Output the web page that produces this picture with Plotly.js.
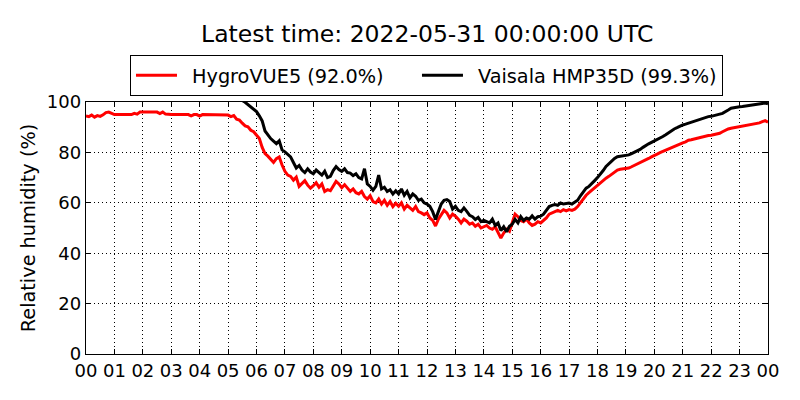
<!DOCTYPE html>
<html>
<head>
<meta charset="utf-8">
<script src="https://cdn.plot.ly/plotly-3.0.1.min.js"></script>
<style>html,body{margin:0;padding:0;background:#fff;}#chart{width:800px;height:400px;}</style>
</head>
<body>
<div id="chart"></div>
<script>
// Sampling times: every 6 minutes, 2022-05-30 00:00 to 2022-05-31 00:00
var startTime = '2022-05-30T00:00:00';
var endTime = '2022-05-31T00:00:00';
var stepMinutes = 6;

var seriesNames = ['HygroVUE5 (92.0%)', 'Vaisala HMP35D (99.3%)'];

// HygroVUE5 relative humidity (%), 10 values per hour + final
var hygroVUE5 = [
  94.5,94.2,94.8,94.0,94.6,94.3,94.9,95.8,96.0,95.6,
  95,95,95,95,95,95,95,95.5,95.2,96,
  96,96,96,96,96,96,95.4,96,95.2,95,
  95,95,95,95,95,95,95,94.5,95,95,
  94.4,95,95,95,95,95,95,95,95,94.8,
  94.8,94.2,94.6,93.2,92.8,91.6,90.5,90.2,88.8,88.2,
  86.8,85.5,82.0,79.5,78.5,77.2,76.0,77.5,78.2,75.0,
  72.5,71.0,70.5,69.0,70.2,66.5,67.8,68.8,67.0,65.8,
  66.8,68.0,66.2,67.5,64.5,65.2,64.8,66.5,68.5,67.5,
  66.0,67.2,66.0,64.5,65.5,64.0,63.5,64.5,62.5,61.5,
  62.8,60.5,60.0,61.5,59.5,61.0,59.0,60.5,58.5,59.8,
  58.6,60.0,57.5,59.0,58.0,57.0,58.5,56.5,56.0,55.3,
  56.0,54.0,53.0,50.8,53.5,55.5,57.0,56.0,54.0,55.5,
  54.7,53.5,52.0,53.5,52.7,51.5,52.0,50.7,51.5,50.0,
  50.5,51.0,50.0,49.5,50.5,48.5,46.0,48.0,49.5,48.7,
  52.0,55.5,54.5,53.0,52.5,53.5,52.0,51.0,51.5,52.5,
  52.0,53.0,54.0,55.5,56.0,56.6,57.0,56.5,57.3,56.8,
  57.3,57.0,57.5,58.5,60.0,61.5,63.0,64.0,65.0,66.0,
  66.8,67.8,68.8,69.8,70.5,71.3,72.2,73.0,73.3,73.5,
  73.6,73.8,74.3,74.8,75.3,75.8,76.3,77.0,77.6,78.2,
  78.6,79.3,79.9,80.4,81.0,81.6,82.0,82.6,83.0,83.5,
  83.8,84.2,84.8,85.0,85.3,85.6,86.0,86.3,86.5,86.7,
  86.8,87.0,87.2,87.6,88.2,88.8,89.3,89.6,89.8,90.0,
  90.1,90.2,90.5,90.8,91.0,91.3,91.5,91.7,92.2,92.6,
  92.0
];

// Vaisala HMP35D relative humidity (%), 10 values per hour + final
var hmp35d = [
  101.5,101.3,101.6,101.2,101.4,101.5,101.6,101.8,101.9,101.7,
  101.6,101.6,101.6,101.6,101.6,101.6,101.6,101.8,101.7,102.0,
  102.0,102.0,102.0,102.0,102.0,102.0,101.8,102.0,101.7,101.6,
  101.6,101.6,101.6,101.6,101.6,101.6,101.6,101.4,101.6,101.6,
  101.3,101.6,101.6,101.6,101.6,101.6,101.6,101.6,101.6,101.5,
  101.5,101.4,101.4,101.2,101.0,100.6,99.9,99.0,98.2,97.3,
  96.2,94.5,92.5,88.5,87.0,85.5,84.5,83.5,84.6,81.0,
  80.2,79.0,78.2,76.0,73.8,74.8,73.0,72.0,73.5,72.2,
  71.5,73.0,72.0,71.0,72.5,70.0,70.5,72.8,74.4,73.2,
  72.5,73.5,72.0,71.8,70.8,71.5,70.0,69.5,73.5,67.5,
  66.5,65.0,66.5,71.0,65.5,66.2,64.5,65.2,63.5,64.8,
  63.5,65.5,63.0,64.5,62.0,63.5,62.6,61.0,61.5,60.0,
  59.5,58.6,56.5,53.4,56.5,59.5,61.0,61.3,60.5,57.5,
  58.6,57.0,56.5,58.0,56.6,55.0,54.5,53.4,54.2,52.5,
  53.0,52.5,52.0,53.5,51.0,52.0,49.0,50.5,48.5,50.7,
  51.5,53.4,52.0,54.5,53.0,54.0,53.5,54.8,53.5,54.5,
  54.7,55.5,57.0,58.5,59.0,59.3,59.0,59.9,59.5,59.8,
  59.9,59.5,60.2,61.0,62.8,64.5,65.8,66.5,67.5,68.8,
  70.0,71.3,72.8,74.4,75.5,76.6,77.6,78.3,78.5,78.6,
  78.8,79.0,79.5,80.0,80.6,81.2,82.0,82.8,83.4,84.0,
  84.5,85.0,85.6,86.3,87.0,87.8,88.5,89.3,89.8,90.4,
  90.9,91.2,91.6,92.0,92.5,92.9,93.3,93.7,94.0,94.2,
  94.3,94.5,94.8,95.2,95.5,96.0,96.8,97.5,97.8,98.0,
  98.1,98.2,98.4,98.5,98.6,98.8,99.0,99.2,99.4,99.6,
  99.3
];

var titleText = 'Latest time: 2022-05-31 00:00:00 UTC';
var yTitle = 'Relative humidity (%)';
var yTicks = [0, 20, 40, 60, 80, 100];

function pad(n) { return (n < 10 ? '0' : '') + n; }
function timeAxis(count) {
  var out = [];
  var t0 = new Date(startTime + 'Z').getTime();
  for (var i = 0; i < count; i++) {
    var d = new Date(t0 + i * stepMinutes * 60000);
    out.push(d.getUTCFullYear() + '-' + pad(d.getUTCMonth() + 1) + '-' + pad(d.getUTCDate()) + ' ' +
             pad(d.getUTCHours()) + ':' + pad(d.getUTCMinutes()) + ':00');
  }
  return out;
}
var times = timeAxis(hygroVUE5.length);

var FONT = 'DejaVu Sans, sans-serif';
var LEAD = '\u00a0\u2009';                              // gap between legend line and label
var TRAIL = '\u00a0\u00a0\u00a0\u00a0\u2009';           // spacing between the two legend entries

var traces = [
  {x: times, y: hygroVUE5, name: LEAD + seriesNames[0] + TRAIL, type: 'scatter', mode: 'lines',
   line: {color: '#ff0000', width: 3}},
  {x: times, y: hmp35d, name: LEAD + seriesNames[1], type: 'scatter', mode: 'lines',
   line: {color: '#000000', width: 3}}
];

var layout = {
  width: 800, height: 400,
  margin: {l: 86, r: 32, t: 102, b: 46, pad: 0},
  paper_bgcolor: '#ffffff', plot_bgcolor: '#ffffff',
  font: {family: FONT, color: '#000', size: 18},
  title: {text: titleText, font: {family: FONT, size: 23.5, color: '#000'},
          x: 0.534, xanchor: 'center', y: 0.915, yanchor: 'middle'},
  showlegend: true,
  legend: {orientation: 'h', x: 0.0645, xanchor: 'left', y: 1.186, yanchor: 'top',
           bordercolor: '#000', borderwidth: 1, bgcolor: '#fff',
           font: {family: FONT, size: 19.3, color: '#000'},
           itemwidth: 41, traceorder: 'normal'},
  xaxis: {
    type: 'date',
    range: [startTime.replace('T', ' '), endTime.replace('T', ' ')],
    dtick: 3600000, tick0: '2022-05-30 00:00:00', tickformat: '%H',
    ticks: 'inside', ticklen: 5, tickwidth: 1, tickcolor: '#000',
    showline: true, linecolor: '#000', linewidth: 1.3, mirror: 'ticks',
    showgrid: true, gridcolor: '#000', gridwidth: 1, griddash: '1px,3px',
    zeroline: false, tickfont: {family: FONT, size: 18, color: '#000'},
    fixedrange: true
  },
  yaxis: {
    range: [0, 100], tickvals: yTicks, ticktext: yTicks.map(String),
    ticks: 'inside', ticklen: 5, tickwidth: 1, tickcolor: '#000',
    showline: true, linecolor: '#000', linewidth: 1.3, mirror: 'ticks',
    showgrid: true, gridcolor: '#000', gridwidth: 1, griddash: '1px,3px',
    zeroline: false, tickfont: {family: FONT, size: 18, color: '#000'},
    title: {text: yTitle, font: {family: FONT, size: 19.3, color: '#000'}, standoff: 6},
    fixedrange: true
  }
};

Plotly.newPlot('chart', traces, layout, {displayModeBar: false, staticPlot: true});
</script>
</body>
</html>
